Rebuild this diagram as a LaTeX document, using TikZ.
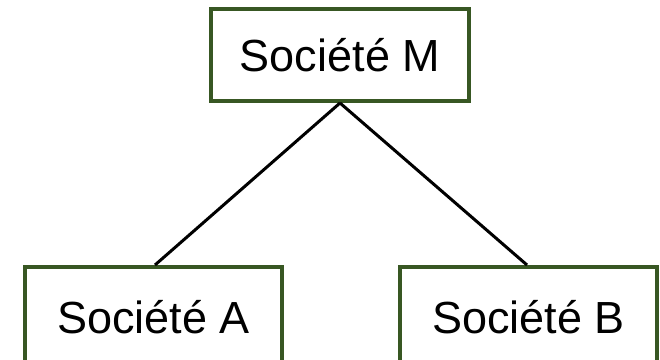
\documentclass[tikz,border=0pt]{standalone}
\usepackage{fontspec}
\setmainfont{Liberation Sans}
\definecolor{boxgreen}{RGB}{56,87,35}
\begin{document}
\begin{tikzpicture}[x=1pt,y=-1pt,
  company/.style={draw=boxgreen, line width=4pt, fill=white, inner sep=0pt,
    font=\fontsize{45}{54}\selectfont},
  link/.style={draw=black, line width=3pt}]
  \useasboundingbox (0,0) rectangle (660,359);
  \clip (0,0) rectangle (660,359);
  % parent company
  \node[company, minimum width=258pt, minimum height=92pt] (M) at (340,55) {Société M};
  % subsidiaries (their lower edges run past the frame)
  \node[company, minimum width=257pt, minimum height=100pt] (A) at (153.5,317) {Société A};
  \node[company, minimum width=257pt, minimum height=100pt] (B) at (528.5,317) {Société B};
  % ownership links
  \draw[link] (M.south) -- ([xshift=1.5pt]A.north);
  \draw[link] (M.south) -- ([xshift=-1.5pt]B.north);
\end{tikzpicture}
\end{document}
